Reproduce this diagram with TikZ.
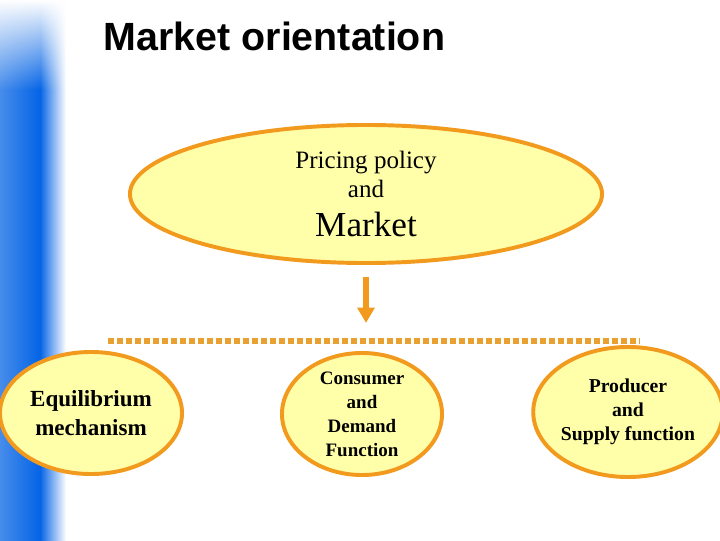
\documentclass[tikz,border=0pt]{standalone}
\usepackage{fontspec}
\setmainfont{Liberation Serif}
\setsansfont{Liberation Sans}
\usepackage{xcolor}
\usepackage{tikz}
\usetikzlibrary{arrows.meta,shapes.geometric,positioning,fadings}

\definecolor{ovalfill}{RGB}{255,255,170}
\definecolor{ovalline}{RGB}{242,154,30}
\definecolor{busline}{RGB}{232,160,48}
\definecolor{stripeA}{RGB}{70,140,235}
\definecolor{stripeB}{RGB}{5,100,230}

\begin{document}
\begin{tikzpicture}[x=0.025cm, y=0.025cm,
    oval/.style={ellipse, draw=ovalline, line width=2.8pt, fill=ovalfill, inner sep=0pt, align=center},
    arr/.style={-{Triangle[length=11pt,width=12pt]}, draw=ovalline, line width=4pt}]
                    \useasboundingbox (0,0) rectangle (720,540);
                    \fill[white] (0,0) rectangle (720,540);
                    % blue stripe at the left
                    \shade[left color=stripeA, right color=stripeB] (0,0) rectangle (40,540);
                    \shade[left color=stripeB, right color=white] (40,0) rectangle (66,540);
                    \fill[white, path fading=south] (0,540) rectangle (66,450);

                    \node[font=\sffamily\bfseries\fontsize{28}{34}\selectfont] (title) at (274.5,504) {Market orientation};

                    \node[oval, minimum width=11.8cm, minimum height=3.45cm,
                        font=\fontsize{17.8}{20.6}\selectfont] (market) at (366,346)
                        {Pricing policy\\and\\[7pt]{\fontsize{25}{28}\selectfont Market}};
                    \node[oval, minimum width=4.55cm, minimum height=3.05cm,
                        font=\bfseries\fontsize{16.4}{20.6}\selectfont] (equil) at (91,127) {Equilibrium\\mechanism};
                    \node[oval, minimum width=4.0cm, minimum height=3.05cm,
                        font=\bfseries\fontsize{13.5}{17}\selectfont] (consumer) at (362,126)
                        {Consumer\\and\\Demand\\Function};
                    \node[oval, minimum width=4.1cm, minimum height=3.25cm,
                        font=\bfseries\fontsize{14}{17}\selectfont] (producer) at (628,128) {Producer\\and\\Supply function};

                    \coordinate (tip) at (366,217);
                    \coordinate (busL) at (108,199);
                    \coordinate (busR) at (640,199);

                    \draw[arr, shorten <=0.3cm] (market.south) -- (tip);
                    \draw[busline, line width=4.3pt, dash pattern=on 4.3pt off 2.1pt] (busL) -- (busR);
                \end{tikzpicture}
\end{document}
